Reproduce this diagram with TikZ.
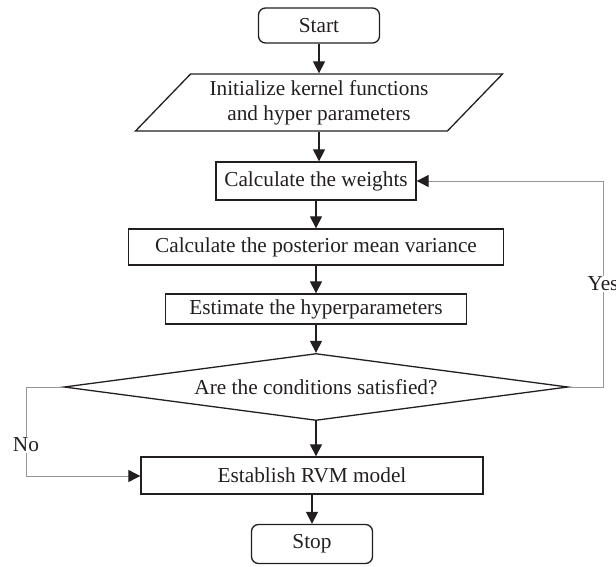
\documentclass[tikz,border=0pt]{standalone}
\usepackage{fontspec}
\setmainfont{Liberation Serif}
\usetikzlibrary{shapes.geometric, arrows.meta}
\definecolor{ink}{RGB}{35,31,32}
\definecolor{loopgray}{RGB}{150,150,150}
\tikzstyle{every node}=[font=\fontsize{21.3}{25}\selectfont, text=ink]
\tikzstyle{box}=[draw=ink, line width=1.3pt, rectangle, inner sep=0pt]
\tikzstyle{term}=[box, rounded corners=7pt, minimum width=121pt]
\tikzstyle{io}=[draw=ink, line width=1.3pt, trapezium, trapezium left angle=39, trapezium right angle=141, trapezium stretches body, minimum width=367pt, minimum height=57pt, inner sep=0pt, align=center]
\tikzstyle{cond}=[draw=ink, line width=1.3pt, diamond, aspect=7.5, minimum width=504pt, minimum height=67pt, inner sep=0pt]
\tikzstyle{flow}=[draw=ink, line width=1.2pt, -{Triangle[length=12pt, width=12pt]}]
\tikzstyle{back}=[draw=loopgray, line width=0.9pt, -{Triangle[length=12pt, width=12pt, color=ink]}]

\begin{document}
\begin{tikzpicture}[x=1pt, y=-1pt]
\useasboundingbox (0,0) rectangle (616,567);
% Steps
    \node[term, minimum height=35pt] (start) at (319,25.5) {Start};
    \node[io] (init) at (319,102.5) {Initialize kernel functions\\and hyper parameters};
    \node[box, minimum width=200pt, minimum height=38pt] (weights) at (316,181) {Calculate the weights};
    \node[box, minimum width=375pt, minimum height=36pt] (posterior) at (316,247) {Calculate the posterior mean variance};
    \node[box, minimum width=301pt, minimum height=30pt] (estimate) at (316,309) {Estimate the hyperparameters};
    \node[cond] (check) at (316,387) {Are the conditions satisfied?};
    \node[box, minimum width=342pt, minimum height=37pt] (rvm) at (312,475.5) {Establish RVM model};
    \node[term, minimum height=39pt] (stop) at (312,544) {Stop};
% Turning points
    \coordinate (yesturn) at (603,387);
    \coordinate (yestop) at (603,181);
    \coordinate (noturn) at (26,387);
    \coordinate (nobottom) at (26,476);
% Main flow
    \draw[flow] (start) -- (init);
    \draw[flow] (init.south) -- (init.south |- weights.north);
    \draw[flow] (weights) -- (posterior);
    \draw[flow] (posterior) -- (estimate);
    \draw[flow] (estimate) -- (check);
    \draw[flow] (check.south) -- (check.south |- rvm.north);
    \draw[flow] (rvm.south -| stop) -- (stop);
% Yes and no
    \draw[back] (check.east) -- (yesturn) -- node[fill=white, inner sep=1pt] (yes) {Yes} (yestop) -- (weights.east);
    \draw[back] (check.west) -- (noturn) -- node[fill=white, inner sep=1pt, pos=0.65] (no) {No} (nobottom) -- (rvm.west |- nobottom);
\end{tikzpicture}
\end{document}
